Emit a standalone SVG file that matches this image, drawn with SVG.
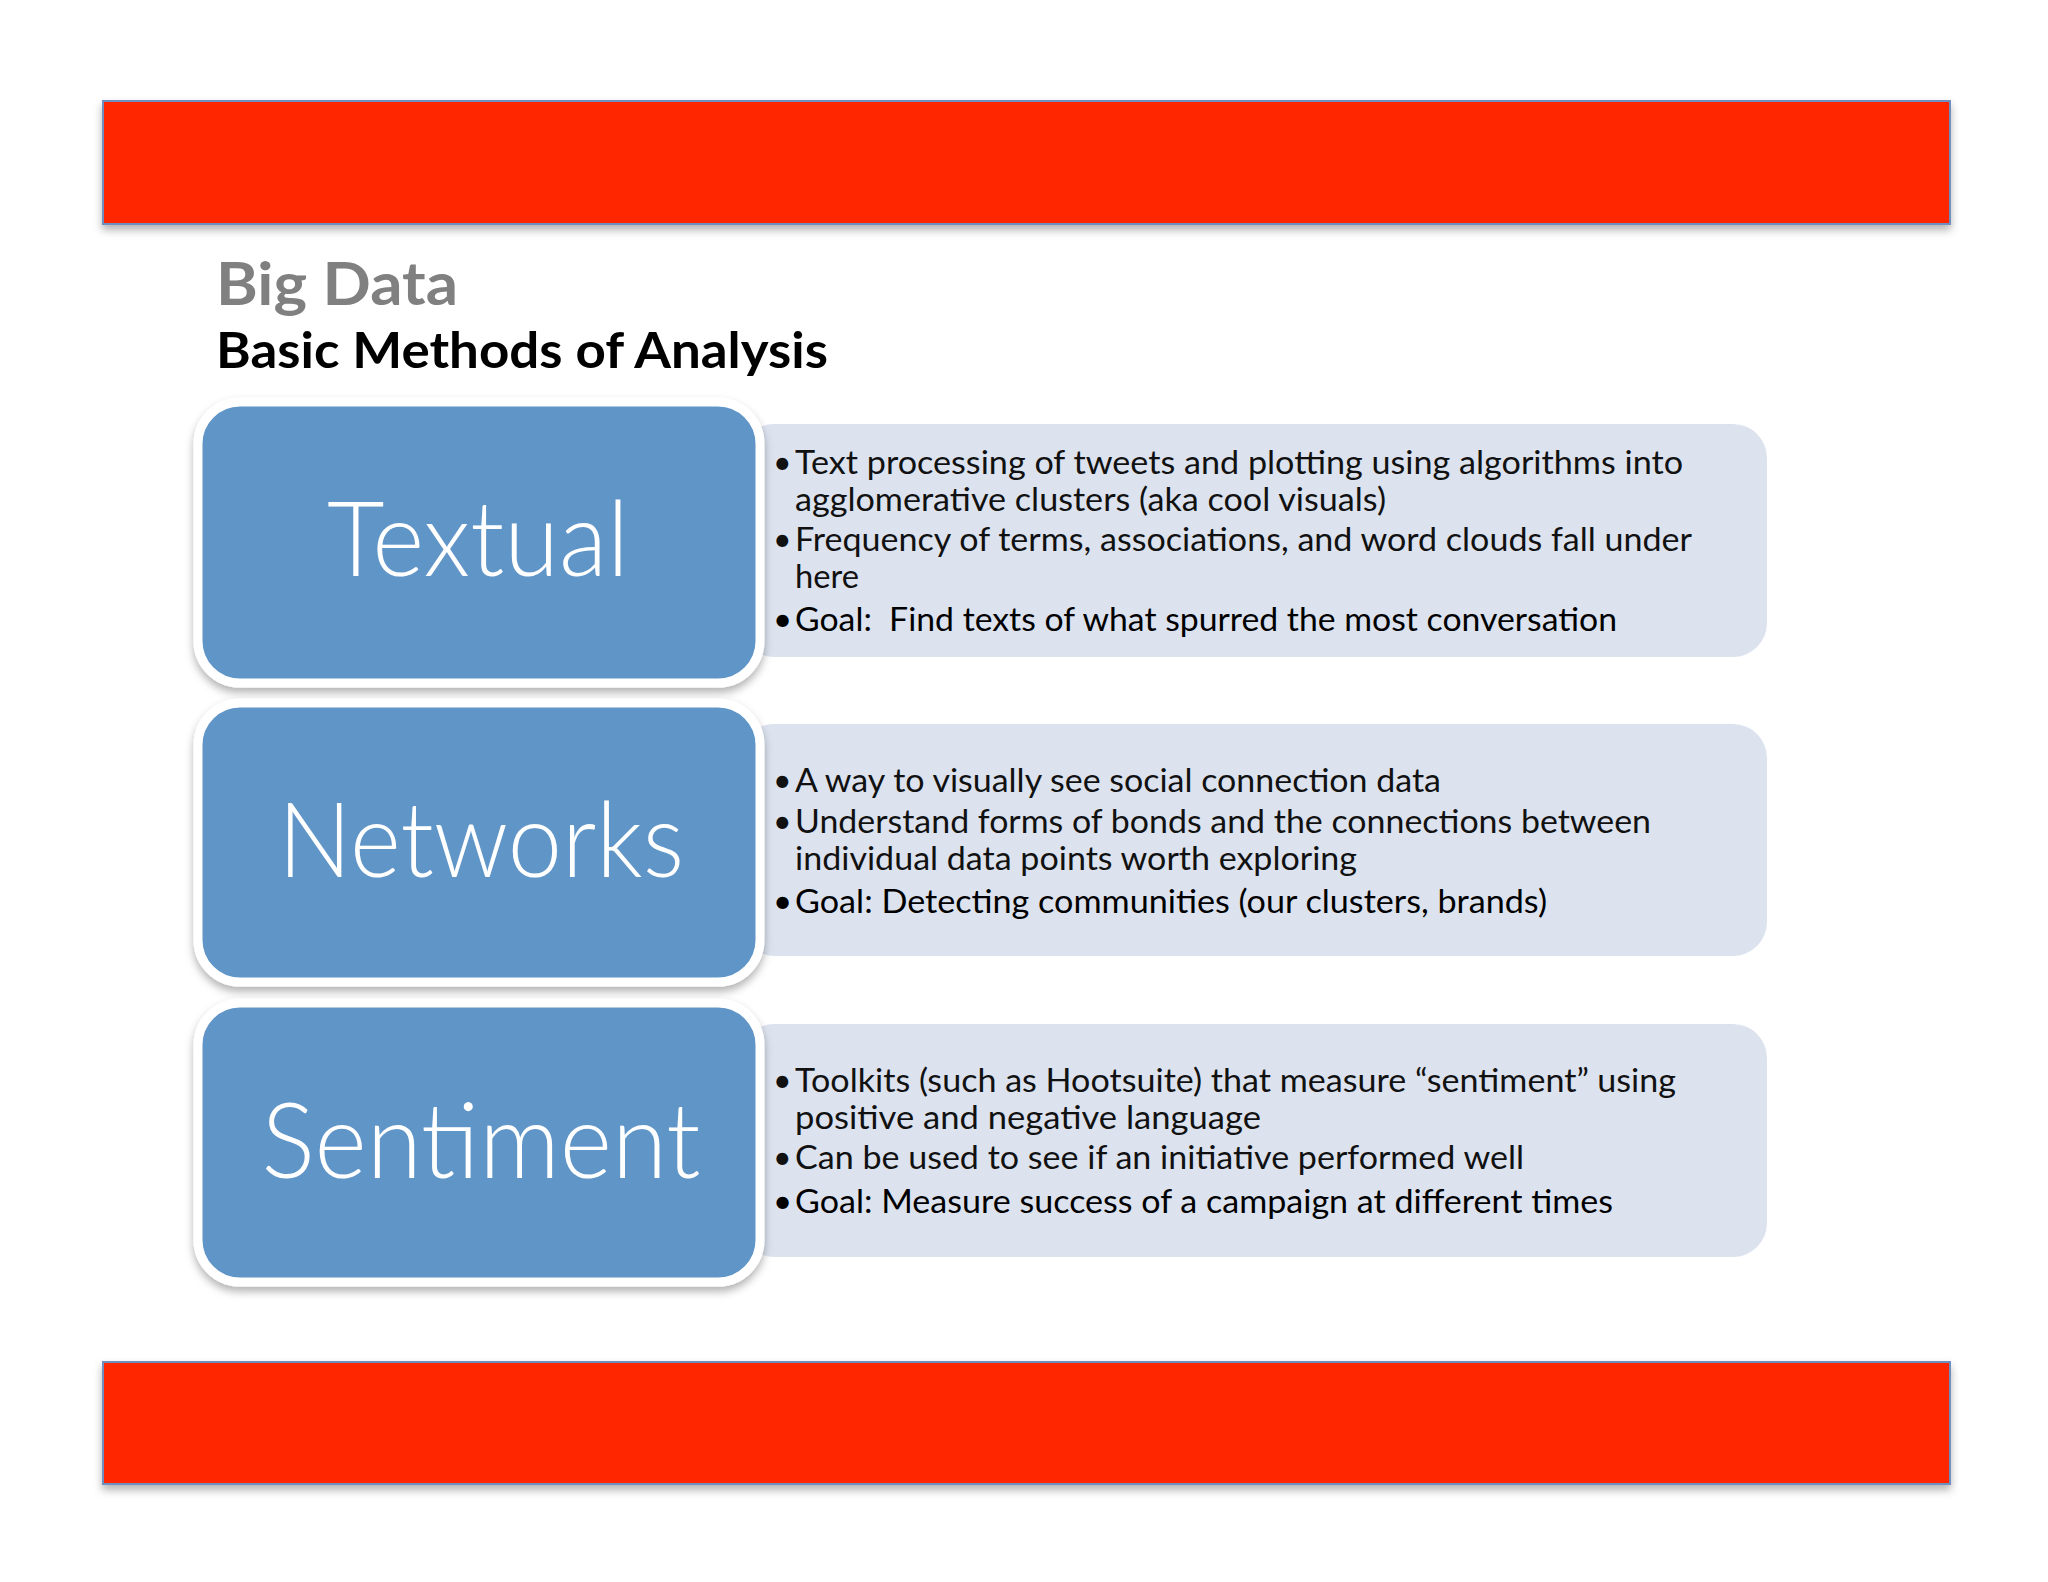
<svg xmlns="http://www.w3.org/2000/svg" width="2048" height="1582" viewBox="0 0 2048 1582">
<defs>
<filter id="sh" x="-10%" y="-10%" width="120%" height="130%"><feDropShadow dx="0" dy="5" stdDeviation="4" flood-color="#000" flood-opacity="0.3"/></filter>
</defs>
<style>
.bar{fill:#FF2600;stroke:#6E8FC0;stroke-width:2}
.blue{fill:#6195C8;stroke:#fff;stroke-width:9}
.light{fill:#DCE3EF}
.big{font-family:Lato,"Liberation Sans",sans-serif;font-size:104px;fill:#fff;text-anchor:middle;font-weight:300}
.b{font-family:Lato,"Liberation Sans",sans-serif;font-size:32px;fill:#111}
.g{font-family:Lato,"Liberation Sans",sans-serif;font-size:33px;fill:#000}
</style>
<rect width="2048" height="1582" fill="#fff"/>
<rect class="bar" x="103" y="101" width="1847" height="123" filter="url(#sh)"/>
<rect class="bar" x="103" y="1362" width="1847" height="122" filter="url(#sh)"/>
<text x="216" y="305" font-family="Lato,'Liberation Sans',sans-serif" font-size="60" font-weight="bold" fill="#808080" textLength="242" lengthAdjust="spacingAndGlyphs">Big Data</text>
<text x="216" y="368" font-family="Lato,'Liberation Sans',sans-serif" font-size="50" font-weight="bold" fill="#000" textLength="612" lengthAdjust="spacingAndGlyphs">Basic Methods of Analysis</text>
<g id="textual">
<rect class="light" x="740" y="424" width="1027" height="233" rx="34"/>
<rect class="blue" x="198" y="402" width="562" height="281" rx="42" filter="url(#sh)"/>
<text class="big" x="478" y="576" textLength="302" lengthAdjust="spacingAndGlyphs">Textual</text>
<text class="b" x="773" y="474">•</text><text class="b" x="795" y="474" textLength="888" lengthAdjust="spacingAndGlyphs">Text processing of tweets and plotting using algorithms into</text>
<text class="b" x="795" y="511" textLength="591" lengthAdjust="spacingAndGlyphs">agglomerative clusters (aka cool visuals)</text>
<text class="b" x="773" y="551">•</text><text class="b" x="795" y="551" textLength="897" lengthAdjust="spacingAndGlyphs">Frequency of terms, associations, and word clouds fall under</text>
<text class="b" x="795" y="588" textLength="64" lengthAdjust="spacingAndGlyphs">here</text>
<text class="g" x="773" y="631">•</text><text class="g" x="795" y="631" textLength="822" lengthAdjust="spacingAndGlyphs" xml:space="preserve">Goal:  Find texts of what spurred the most conversation</text>
</g>
<g id="networks">
<rect class="light" x="740" y="724" width="1027" height="232" rx="34"/>
<rect class="blue" x="198" y="703" width="562" height="279" rx="42" filter="url(#sh)"/>
<text class="big" x="481" y="877" textLength="406" lengthAdjust="spacingAndGlyphs">Networks</text>
<text class="b" x="773" y="792">•</text><text class="b" x="795" y="792" textLength="646" lengthAdjust="spacingAndGlyphs">A way to visually see social connection data</text>
<text class="b" x="773" y="833">•</text><text class="b" x="795" y="833" textLength="856" lengthAdjust="spacingAndGlyphs">Understand forms of bonds and the connections between</text>
<text class="b" x="795" y="870" textLength="562" lengthAdjust="spacingAndGlyphs">individual data points worth exploring</text>
<text class="g" x="773" y="913">•</text><text class="g" x="795" y="913" textLength="752" lengthAdjust="spacingAndGlyphs">Goal: Detecting communities (our clusters, brands)</text>
</g>
<g id="sentiment">
<rect class="light" x="740" y="1024" width="1027" height="233" rx="34"/>
<rect class="blue" x="198" y="1003" width="562" height="279" rx="42" filter="url(#sh)"/>
<text class="big" x="481" y="1178" textLength="439" lengthAdjust="spacingAndGlyphs">Sentiment</text>
<text class="b" x="773" y="1092">•</text><text class="b" x="795" y="1092" textLength="881" lengthAdjust="spacingAndGlyphs">Toolkits (such as Hootsuite) that measure “sentiment” using</text>
<text class="b" x="795" y="1129" textLength="466" lengthAdjust="spacingAndGlyphs">positive and negative language</text>
<text class="b" x="773" y="1169">•</text><text class="b" x="795" y="1169" textLength="729" lengthAdjust="spacingAndGlyphs">Can be used to see if an initiative performed well</text>
<text class="g" x="773" y="1213">•</text><text class="g" x="795" y="1213" textLength="818" lengthAdjust="spacingAndGlyphs">Goal: Measure success of a campaign at different times</text>
</g>
<g id="connectors"/>
</svg>
